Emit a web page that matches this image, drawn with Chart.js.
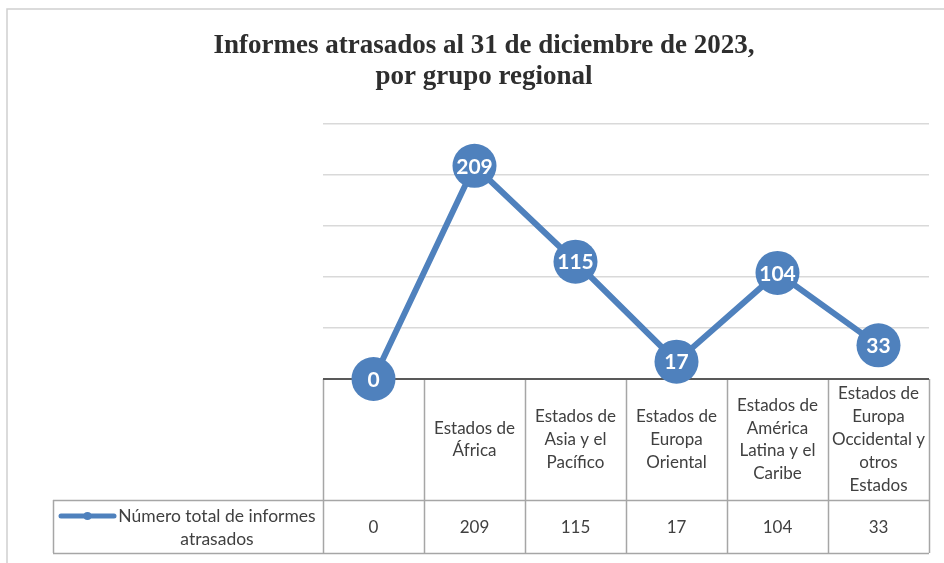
<!DOCTYPE html>
<html>
<head>
<meta charset="utf-8">
<script src="https://cdn.jsdelivr.net/npm/chart.js@4/dist/chart.umd.min.js"></script>
<style>
html,body{margin:0;padding:0;background:#fff;}
#wrap{width:944px;height:563px;position:relative;}
</style>
</head>
<body>
<div id="wrap"><canvas id="c" width="944" height="563"></canvas></div>
<script>
const titleLines = ['Informes atrasados al 31 de diciembre de 2023,', 'por grupo regional'];
const categories = [
  [''],
  ['Estados de', 'África'],
  ['Estados de', 'Asia y el', 'Pacífico'],
  ['Estados de', 'Europa', 'Oriental'],
  ['Estados de', 'América', 'Latina y el', 'Caribe'],
  ['Estados de', 'Europa', 'Occidental y', 'otros', 'Estados']
];
const values = [0, 209, 115, 17, 104, 33];
const seriesName = ['Número total de informes', 'atrasados'];
const yMin = 0, yMax = 250, yStep = 50;

const BLUE = '#4F81BD';
const TXT = '#404040';
const BORDER = '#a6a6a6';
const TFONT = '17px Lato, "Open Sans", sans-serif';
const TABLE_BOTTOM = 553;
const HEADER_BOTTOM = 500;
const LEGEND_LEFT = 53;

const framePlugin = {
  id: 'frame',
  beforeDraw(chart) {
    const ctx = chart.ctx;
    ctx.save();
    ctx.fillStyle = '#fff';
    ctx.fillRect(0, 0, chart.width, chart.height);
    ctx.strokeStyle = '#d0d0d0';
    ctx.lineWidth = 1.5;
    ctx.beginPath();
    ctx.moveTo(7, chart.height);
    ctx.lineTo(7, 9);
    ctx.lineTo(chart.width, 9);
    ctx.stroke();
    ctx.fillStyle = '#2e2e2e';
    ctx.font = 'bold 27px "Liberation Serif", "Times New Roman", serif';
    ctx.textAlign = 'center';
    ctx.textBaseline = 'middle';
    ctx.fillText(titleLines[0], 484, 46);
    ctx.fillText(titleLines[1], 484, 77);
    ctx.restore();
  }
};

const tablePlugin = {
  id: 'dataTable',
  beforeDatasetsDraw(chart) {
    const ctx = chart.ctx;
    const x = chart.scales.x;
    const area = chart.chartArea;
    const n = categories.length;
    const colW = (area.right - area.left) / n;
    const top = area.bottom;
    ctx.save();
    ctx.strokeStyle = BORDER;
    ctx.lineWidth = 1.5;
    for (let i = 0; i <= n; i++) {
      const xx = Math.round(area.left + i * colW) + 0.5;
      ctx.beginPath();
      ctx.moveTo(xx, top);
      ctx.lineTo(xx, TABLE_BOTTOM);
      ctx.stroke();
    }
    ctx.beginPath();
    ctx.moveTo(LEGEND_LEFT, HEADER_BOTTOM + 0.5);
    ctx.lineTo(area.right, HEADER_BOTTOM + 0.5);
    ctx.moveTo(LEGEND_LEFT, TABLE_BOTTOM + 0.5);
    ctx.lineTo(area.right, TABLE_BOTTOM + 0.5);
    ctx.moveTo(LEGEND_LEFT + 0.5, HEADER_BOTTOM);
    ctx.lineTo(LEGEND_LEFT + 0.5, TABLE_BOTTOM);
    ctx.stroke();
    ctx.strokeStyle = '#595959';
    ctx.lineWidth = 2;
    ctx.beginPath();
    ctx.moveTo(area.left, top);
    ctx.lineTo(area.right, top);
    ctx.stroke();
    ctx.fillStyle = TXT;
    ctx.font = TFONT;
    ctx.textAlign = 'center';
    ctx.textBaseline = 'middle';
    const lh = 22.8;
    const hc = (top + HEADER_BOTTOM) / 2;
    categories.forEach((lines, i) => {
      const cx = x.getPixelForValue(i);
      const y0 = hc - (lines.length - 1) * lh / 2;
      lines.forEach((l, j) => ctx.fillText(l, cx, y0 + j * lh));
    });
    const rc = (HEADER_BOTTOM + TABLE_BOTTOM) / 2 + 1;
    values.forEach((v, i) => {
      ctx.fillText(String(v), x.getPixelForValue(i), rc);
    });
    const ly = 516;
    ctx.strokeStyle = BLUE;
    ctx.lineWidth = 5;
    ctx.lineCap = 'round';
    ctx.beginPath();
    ctx.moveTo(61, ly);
    ctx.lineTo(114, ly);
    ctx.stroke();
    ctx.fillStyle = BLUE;
    ctx.beginPath();
    ctx.arc(87.5, ly, 4, 0, Math.PI * 2);
    ctx.fill();
    ctx.fillStyle = TXT;
    ctx.font = '17.5px Lato, "Open Sans", sans-serif';
    ctx.fillText(seriesName[0], 217, ly);
    ctx.fillText(seriesName[1], 217, ly + 23);
    ctx.restore();
  }
};

const labelPlugin = {
  id: 'pointLabels',
  afterDatasetsDraw(chart) {
    const ctx = chart.ctx;
    const meta = chart.getDatasetMeta(0);
    ctx.save();
    ctx.fillStyle = '#fff';
    ctx.font = 'bold 21px Lato, "Open Sans", sans-serif';
    ctx.textAlign = 'center';
    ctx.textBaseline = 'middle';
    meta.data.forEach((pt, i) => {
      ctx.fillText(String(values[i]), pt.x, pt.y + 1);
    });
    ctx.restore();
  }
};

new Chart(document.getElementById('c'), {
  type: 'line',
  data: {
    labels: categories.map(l => l.join(' ').trim()),
    datasets: [{
      label: seriesName.join(' '),
      data: values,
      borderColor: BLUE,
      backgroundColor: BLUE,
      borderWidth: 6,
      pointRadius: 22,
      pointHoverRadius: 22,
      pointBorderWidth: 0,
      pointBackgroundColor: BLUE,
      tension: 0,
      clip: false
    }]
  },
  options: {
    responsive: false,
    devicePixelRatio: 1,
    animation: false,
    events: [],
    layout: { autoPadding: false, padding: { left: 323, right: 15, top: 124, bottom: 184 } },
    plugins: { legend: { display: false }, title: { display: false }, tooltip: { enabled: false } },
    scales: {
      x: { type: 'category', offset: true, display: false },
      y: {
        min: yMin, max: yMax,
        ticks: { display: false, stepSize: yStep },
        border: { display: false },
        grid: {
          drawTicks: false,
          color: c => c.tick && c.tick.value === 0 ? 'rgba(0,0,0,0)' : '#d9d9d9',
          lineWidth: 1.5
        }
      }
    }
  },
  plugins: [framePlugin, tablePlugin, labelPlugin]
});
</script>
</body>
</html>
